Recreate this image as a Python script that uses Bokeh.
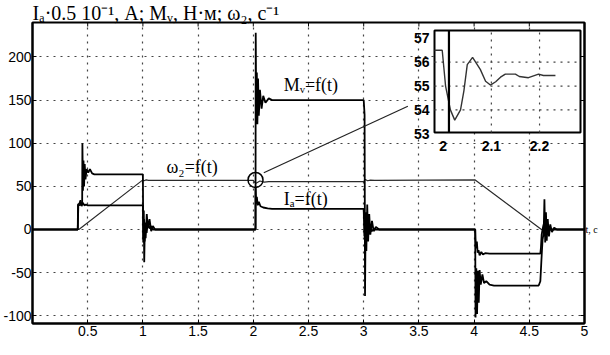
import math
from bokeh.plotting import figure
from bokeh.models import Range1d, FixedTicker, LinearAxis
from bokeh.embed import file_html
from bokeh.resources import INLINE
from bokeh.core.properties import value

# ---------------- data ----------------
# electromagnetic torque M (N*m)
t_M = [0, 0.41, 0.415, 0.45, 0.452, 0.457, 0.462, 0.467, 0.473, 0.48, 0.49, 0.505, 0.52, 0.54, 0.56, 1.0,
       1.003, 1.008, 1.012, 1.018, 1.025, 1.035, 1.045, 1.06, 1.075, 1.09, 1.11,
       2.02, 2.022, 2.027, 2.032, 2.037, 2.043, 2.05, 2.06, 2.075, 2.09, 2.11, 2.14, 2.17, 3.0,
       3.008, 3.012, 3.018, 3.024, 3.032, 3.04, 3.05, 3.06, 3.075, 3.09, 3.11, 3.14, 4.01,
       4.013, 4.02, 4.027, 4.034, 4.042, 4.05, 4.06, 4.075, 4.09, 4.11, 4.14, 4.18, 4.585,
       4.6, 4.61, 4.62, 4.63, 4.637, 4.644, 4.651, 4.658, 4.667, 4.678, 4.69, 4.705, 4.725, 4.75, 5.0]
v_M = [0, 0, 28, 29, 100, 45, 80, 50, 76, 58, 70, 66, 70, 65, 64, 64,
       -15, 22, -38, 8, -10, 18, 2, 12, -2, 4, 0,
       0, 228, 125, 182, 122, 175, 132, 162, 140, 155, 147, 152, 150, 150,
       133, -77, 20, -25, 29, -14, 18, -6, 10, -2, 3, 0, 0,
       -102, -45, -98, -48, -85, -47, -64, -52, -62, -60, -64, -65, -65,
       -60, -35, -12, -4, 35, -15, 20, -13, 12, -8, 6, -3, 2, 0, 0]

# armature current I (scaled)
t_I = [0, 0.41, 0.412, 0.425, 0.435, 0.445, 0.455, 0.47, 0.485, 0.5, 1.0,
       1.004, 1.01, 1.016, 1.024, 1.034, 1.045, 1.06, 1.075, 1.09,
       2.02, 2.021, 2.026, 2.032, 2.04, 2.05, 2.065, 2.09, 2.13, 2.17, 3.0,
       3.006, 3.012, 3.02, 3.03, 3.042, 3.055, 3.07, 3.09,
       4.01, 4.012, 4.018, 4.025, 4.032, 4.04, 4.05, 4.065, 4.08, 4.1, 4.14, 4.6,
       4.605, 4.612, 4.62, 4.63, 4.64, 4.65, 4.665, 4.68, 5.0]
v_I = [0, 0, 29, 30, 34, 27, 31, 28, 29, 28, 28,
       -10, 12, -14, 6, -4, 9, 1, 4, 0,
       0, 48, 30, 38, 28, 32, 27, 25.5, 24.5, 24, 24,
       -8, 14, -12, 8, -6, 5, -2, 0,
       0, -10, -22, -14, -27, -24, -30, -26, -29, -27.5, -28, -28,
       -22, -6, 0, 6, -8, 4, -3, 0, 0]

# rotor speed omega2 (1/s)
t_w = [0, 0.42, 1.0, 1.01, 1.03, 1.05, 2.0, 2.01, 2.025, 2.06, 2.1, 2.14, 3.0,
       3.015, 3.035, 3.06, 3.1, 4.01, 4.61, 5.0]
v_w = [0, 0, 57.5, 56.5, 57.5, 57, 57, 55, 53.5, 56.2, 55, 55.6, 55.6,
       58, 56.5, 57.2, 57, 57.5, 0, 0]

# zoomed detail of omega2 around t = 2 s (inset)
t_wz = [1.982, 1.998, 2.005, 2.015, 2.024, 2.036, 2.043, 2.05, 2.061, 2.077, 2.088, 2.098,
        2.109, 2.119, 2.129, 2.15, 2.158, 2.177, 2.198, 2.208, 2.233]
v_wz = [56.5, 56.5, 55.0, 54.0, 53.57, 54.0, 54.8, 55.9, 56.2, 55.7, 55.2, 55.04,
        55.18, 55.37, 55.5, 55.5, 55.4, 55.35, 55.5, 55.44, 55.44]
t_step = 2.012

# marked point and leader to the inset
circle_t = [2.02]
circle_v = [57.5]
leader_t = [2.095, 3.40]
leader_v = [65.7, 142.9]

x_ticks = [0.5, 1, 1.5, 2, 2.5, 3, 3.5, 4, 4.5, 5]
x_tick_labels = ["0.5", "1", "1.5", "2", "2.5", "3", "3.5", "4", "4.5", "5"]
y_ticks = [-100, -50, 0, 50, 100, 150, 200]
y_tick_labels = ["-100", "-50", "0", "50", "100", "150", "200"]
time_unit = "t, c"

inset_x_ticks = [2.0, 2.1, 2.2]
inset_x_labels = ["2", "2.1", "2.2"]
inset_y_ticks = [53, 54, 55, 56, 57]
inset_y_labels = ["53", "54", "55", "56", "57"]
inset_x_grid = [2.1, 2.2]
inset_y_grid = [54, 55, 56]

x_lo, x_hi = 0, 5
y_lo, y_hi = -109, 240
ix0, ix1 = 1.982, 2.285
iy0, iy1 = 53.05, 57.33

y_label = "Iₐ·0.5 10⁻¹, А; Mᵥ, Н·м; ω₂, с⁻¹"

# ---------------- layout (page pixels) ----------------
frame_l, frame_r, frame_t, frame_b = 37, 589, 28, 329
inset_l, inset_r, inset_t, inset_b = 439, 585, 36, 138
fw = frame_r - frame_l
fh = frame_b - frame_t

p = figure(frame_width=fw, frame_height=fh,
           x_range=Range1d(x_lo, x_hi), y_range=Range1d(y_lo, y_hi),
           output_backend="svg", toolbar_location=None,
           min_border_left=frame_l - 8, min_border_right=5,
           min_border_top=frame_t - 8, min_border_bottom=18)
p.background_fill_color = "white"
p.border_fill_color = "white"
p.outline_line_color = "black"
p.outline_line_width = 2

# caption above the frame
p.title.text = y_label
p.title.align = "left"
p.title.text_font = "Liberation Serif"
p.title.text_font_size = "20px"
p.title.text_font_style = "normal"
p.title.text_color = "black"
p.title.standoff = -2
p.title.offset = 0

# inset mapping onto the main frame
fx0 = (inset_l - frame_l) / fw
fx1 = (inset_r - frame_l) / fw
fy0 = (frame_b - inset_b) / fh
fy1 = (frame_b - inset_t) / fh
sx = (ix1 - ix0) / (fx1 - fx0)
sy = (iy1 - iy0) / (fy1 - fy0)
p.extra_x_ranges = {"ix": Range1d(ix0 - fx0 * sx, ix0 + (1 - fx0) * sx)}
p.extra_y_ranges = {"iy": Range1d(iy0 - fy0 * sy, iy0 + (1 - fy0) * sy)}

def key(v):
    return int(v) if float(v).is_integer() else v

# axes
tick_font = "Liberation Sans"
p.xaxis.ticker = FixedTicker(ticks=x_ticks)
p.xaxis.major_label_overrides = {key(t): s for t, s in zip(x_ticks, x_tick_labels)}
p.yaxis.ticker = FixedTicker(ticks=y_ticks)
p.yaxis.major_label_overrides = {key(t): s for t, s in zip(y_ticks, y_tick_labels)}
for ax in (p.xaxis[0], p.yaxis[0]):
    ax.major_tick_in = 4
    ax.major_tick_out = 0
    ax.minor_tick_line_color = None
    ax.axis_line_width = 2
    ax.axis_line_color = "black"
    ax.major_tick_line_color = "black"
    ax.major_label_text_font = tick_font
    ax.major_label_text_font_size = "14px"
    ax.major_label_text_color = "black"
p.xaxis.major_label_standoff = 2
p.yaxis.major_label_standoff = 1

# right-hand axis: inward ticks, and the time unit next to the zero line
rax = LinearAxis(ticker=FixedTicker(ticks=y_ticks), major_tick_in=4, major_tick_out=0,
                 minor_tick_line_color=None, axis_line_width=2, major_label_standoff=1,
                 major_label_text_font="Liberation Serif", major_label_text_font_size="10px",
                 major_label_text_color="black")
rax.major_label_overrides = {key(t): (time_unit if t == 0 else "") for t in y_ticks}
p.add_layout(rax, "right")

# grid (MATLAB-like dotted)
for g in (p.xgrid[0], p.ygrid[0]):
    g.grid_line_color = "#444444"
    g.grid_line_dash = "2 5"
    g.grid_line_width = 1.2
p.xgrid.ticker = FixedTicker(ticks=x_ticks[:-1])
p.ygrid.ticker = FixedTicker(ticks=y_ticks)

# inward ticks on the top side of the box
p.scatter(x=x_ticks[:-1], y=[y_hi] * (len(x_ticks) - 1), marker="dash", size=8,
          angle=math.pi / 2, line_color="black", line_width=1)

# curves
p.line(t_w, v_w, line_color="#2a2a2a", line_width=1.2)
p.line(t_I, v_I, line_color="black", line_width=1.8)
p.line(t_M, v_M, line_color="black", line_width=1.8)

# marked point and leader
p.scatter(circle_t, circle_v, marker="circle", size=15, fill_color=None,
          line_color="black", line_width=1.5)
p.line(leader_t, leader_v, line_color="#222222", line_width=1.2)

# curve labels
lab_font = value("Liberation Serif")
p.text(x=[1.214], y=[71.9], text=["ω₂=f(t)"], text_font=lab_font, text_font_size="18px",
       text_baseline="middle", text_align="left", text_color="black")
p.text(x=[2.275], y=[168.1], text=["Mᵥ=f(t)"], text_font=lab_font, text_font_size="18px",
       text_baseline="middle", text_align="left", text_color="black")
p.text(x=[2.275], y=[34.8], text=["Iₐ=f(t)"], text_font=lab_font, text_font_size="18px",
       text_baseline="middle", text_align="left", text_color="black")

# ---------------- inset ----------------
IR = dict(x_range_name="ix", y_range_name="iy")
p.quad(left=[ix0], right=[ix1], bottom=[iy0], top=[iy1], fill_color="white",
       line_color="black", line_width=2, **IR)
p.segment(x0=[ix0] * len(inset_y_grid), x1=[ix1] * len(inset_y_grid), y0=inset_y_grid,
          y1=inset_y_grid, line_color="#444444", line_dash="2 5", line_width=1.2, **IR)
p.segment(x0=inset_x_grid, x1=inset_x_grid, y0=[iy0] * len(inset_x_grid),
          y1=[iy1] * len(inset_x_grid), line_color="#444444", line_dash="2 5",
          line_width=1.2, **IR)
p.line(t_wz, v_wz, line_color="#333333", line_width=1.4, **IR)
p.segment(x0=[t_step], x1=[t_step], y0=[iy0], y1=[iy1], line_color="black",
          line_width=2.2, **IR)
p.text(x=[ix0] * len(inset_y_ticks), y=inset_y_ticks, text=inset_y_labels,
       text_font=value(tick_font), text_font_size="14px", text_font_style="bold",
       text_align="right", text_baseline="middle", x_offset=-5, **IR)
p.text(x=inset_x_ticks, y=[iy0] * len(inset_x_ticks), text=inset_x_labels,
       text_font=value(tick_font), text_font_size="14px", text_font_style="bold",
       text_align="center", text_baseline="top", y_offset=8, **IR)

open("out.html", "w").write(file_html(p, INLINE))
